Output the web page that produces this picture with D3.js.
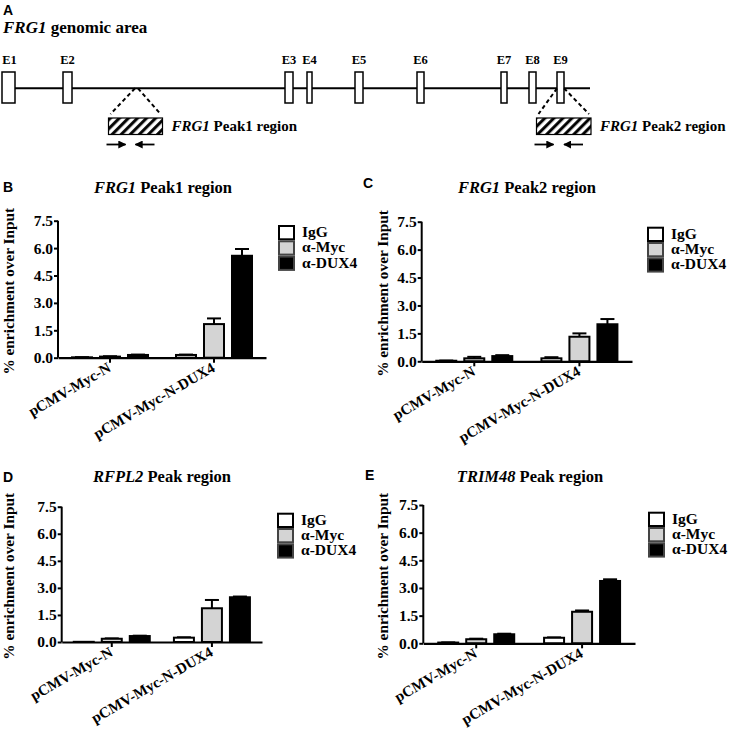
<!DOCTYPE html>
<html><head><meta charset="utf-8">
<script src="https://cdn.jsdelivr.net/npm/d3@7/dist/d3.min.js"></script>
<style>
html,body{margin:0;padding:0;background:#fff;}
svg{display:block;}
.serif{font-family:"Liberation Serif","Times New Roman",serif;font-weight:bold;}
.sans{font-family:"Liberation Sans",Arial,sans-serif;font-weight:bold;}
</style></head>
<body>
<svg id="chart" width="729" height="735"></svg>
<script>
// ---------- DATA ----------
const groups = ["pCMV-Myc-N", "pCMV-Myc-N-DUX4"];
const series = ["IgG", "α-Myc", "α-DUX4"];
const yTicks = [0, 1.5, 3.0, 4.5, 6.0, 7.5];

// values[group][series], errors[group][series]
const peak1Values = [[0.02, 0.06, 0.15], [0.15, 1.84, 5.58]];
const peak1Errors = [[0.01, 0.02, 0.02], [0.02, 0.31, 0.37]];
const peak2Values = [[0.03, 0.16, 0.28], [0.16, 1.32, 1.99]];
const peak2Errors = [[0.01, 0.08, 0.05], [0.06, 0.18, 0.28]];
const rfpl2Values = [[0.01, 0.18, 0.33], [0.24, 1.87, 2.48]];
const rfpl2Errors = [[0.00, 0.02, 0.02], [0.02, 0.46, 0.04]];
const trim48Values = [[0.04, 0.22, 0.49], [0.30, 1.71, 3.38]];
const trim48Errors = [[0.01, 0.03, 0.03], [0.02, 0.07, 0.09]];

// gene diagram (arbitrary genomic units)
const exonNames = ["E1","E2","E3","E4","E5","E6","E7","E8","E9"];
const exonStart = [2, 63, 285, 307, 355, 417, 501, 529, 557];
const exonEnd   = [15, 72, 293, 312, 363, 424, 507, 536, 564];
const geneSpan = [2, 590];
const peakNames = ["Peak1 region", "Peak2 region"];
const peakSites = [[135, 138], [557, 564]];
const peakBoxes = [[108.5, 162.5], [536.5, 591]];

// ---------- STYLE ----------
const fills = ["#ffffff", "#d4d4d4", "#000000"];
const svg = d3.select("#chart");

// ---------- PANEL A ----------
const gx = d3.scaleLinear().domain([0, 600]).range([0, 600]);
svg.append("text").attr("class","sans").attr("x",3).attr("y",15).attr("font-size",14).text("A");
const tA = svg.append("text").attr("class","serif").attr("x",3).attr("y",33).attr("font-size",17);
tA.append("tspan").attr("font-style","italic").text("FRG1");
tA.append("tspan").text(" genomic area");

const lineY = 88.3, exTop = 72, exH = 31;
svg.append("line").attr("x1",gx(geneSpan[0])).attr("x2",gx(geneSpan[1]))
  .attr("y1",lineY).attr("y2",lineY).attr("stroke","#000").attr("stroke-width",2);
svg.selectAll("rect.exon").data(exonNames).enter().append("rect").attr("class","exon")
  .attr("x",(d,i)=>gx(exonStart[i])).attr("width",(d,i)=>gx(exonEnd[i])-gx(exonStart[i]))
  .attr("y",exTop).attr("height",exH).attr("fill","#fff").attr("stroke","#000").attr("stroke-width",1.5);
svg.selectAll("text.exl").data(exonNames).enter().append("text").attr("class","serif exl")
  .attr("x",(d,i)=>(gx(exonStart[i])+gx(exonEnd[i]))/2 + (i===0?1:0)).attr("y",63.5)
  .attr("text-anchor","middle").attr("font-size",12.5).text(d=>d);

const defs = svg.append("defs");
const pat = defs.append("pattern").attr("id","hatch").attr("patternUnits","userSpaceOnUse")
  .attr("width",6.4).attr("height",6.4).attr("patternTransform","rotate(45)");
pat.append("rect").attr("width",6.4).attr("height",6.4).attr("fill","#fff");
pat.append("line").attr("x1",1.6).attr("x2",1.6).attr("y1",0).attr("y2",6.4)
  .attr("stroke","#000").attr("stroke-width",3);
const mk = defs.append("marker").attr("id","arrow").attr("viewBox","0 0 10 10").attr("refX",9).attr("refY",5)
  .attr("markerWidth",8).attr("markerHeight",8).attr("markerUnits","userSpaceOnUse").attr("orient","auto");
mk.append("path").attr("d","M0,0 L10,5 L0,10 z").attr("fill","#000");

peakNames.forEach((name,i)=>{
  const bx0 = gx(peakBoxes[i][0]), bx1 = gx(peakBoxes[i][1]);
  const boxTop = 118, boxH = 16.5;
  svg.append("line").attr("x1",gx(peakSites[i][0])).attr("y1",lineY).attr("x2",bx0+2).attr("y2",boxTop-4)
    .attr("stroke","#000").attr("stroke-width",2).attr("stroke-dasharray","4,3");
  svg.append("line").attr("x1",gx(peakSites[i][1])).attr("y1",lineY).attr("x2",bx1-2).attr("y2",boxTop-4)
    .attr("stroke","#000").attr("stroke-width",2).attr("stroke-dasharray","4,3");
  svg.append("rect").attr("x",bx0).attr("y",boxTop).attr("width",bx1-bx0).attr("height",boxH)
    .attr("fill","url(#hatch)").attr("stroke","#000").attr("stroke-width",1.2);
  const t = svg.append("text").attr("class","serif").attr("x",bx1+9).attr("y",131).attr("font-size",15);
  t.append("tspan").attr("font-style","italic").text("FRG1");
  t.append("tspan").text(" " + name);
  const ay = 144.5;
  svg.append("line").attr("x1",bx0-2).attr("x2",bx0+17).attr("y1",ay).attr("y2",ay)
    .attr("stroke","#000").attr("stroke-width",1.8).attr("marker-end","url(#arrow)");
  svg.append("line").attr("x1",bx1-8).attr("x2",bx1-27).attr("y1",ay).attr("y2",ay)
    .attr("stroke","#000").attr("stroke-width",1.8).attr("marker-end","url(#arrow)");
});

// ---------- BAR PANELS ----------
const panels = [
  {letter:"B", it:"FRG1", rest:" Peak1 region", values:peak1Values, errors:peak1Errors,
   x0:58, x1:266, yTop:220.7, yZero:357.7, ylabX:14, titleX:163, titleY:193.3, lx:3, ly:191.7, legX:278, legY:225},
  {letter:"C", it:"FRG1", rest:" Peak2 region", values:peak2Values, errors:peak2Errors,
   x0:421.7, x1:632, yTop:221.7, yZero:361.3, ylabX:388, titleX:527, titleY:193.3, lx:363, ly:188, legX:647, legY:226.7},
  {letter:"D", it:"RFPL2", rest:" Peak region", values:rfpl2Values, errors:rfpl2Errors,
   x0:61.7, x1:262, yTop:506.7, yZero:642, ylabX:14, titleX:162, titleY:481.7, lx:3, ly:481.7, legX:277, legY:512.7},
  {letter:"E", it:"TRIM48", rest:" Peak region", values:trim48Values, errors:trim48Errors,
   x0:423.3, x1:635, yTop:505, yZero:643.3, ylabX:388, titleX:530, titleY:481.7, lx:365, ly:480, legX:648, legY:511.7}
];

panels.forEach(p=>{
  const g = svg.append("g");
  const y = d3.scaleLinear().domain([0, 7.5]).range([p.yZero, p.yTop]);
  const x = d3.scaleBand().domain(groups).range([p.x0, p.x1]).padding(0);
  const xs = d3.scaleBand().domain(series).range([-38, 38]).paddingInner(0.286);

  g.append("text").attr("class","sans").attr("x",p.lx).attr("y",p.ly).attr("font-size",14).text(p.letter);
  const tt = g.append("text").attr("class","serif").attr("x",p.titleX).attr("y",p.titleY)
    .attr("text-anchor","middle").attr("font-size",16.5);
  tt.append("tspan").attr("font-style","italic").text(p.it);
  tt.append("tspan").text(p.rest);

  g.append("text").attr("class","serif").attr("font-size",15.3).attr("text-anchor","middle")
    .attr("transform",`translate(${p.ylabX},${(p.yTop+p.yZero)/2 + 2}) rotate(-90)`)
    .text("% enrichment over Input");

  // bars
  groups.forEach((grp,gi)=>{
    const cx = x(grp) + x.bandwidth()/2;
    series.forEach((s,si)=>{
      const v = p.values[gi][si], e = p.errors[gi][si];
      const bx = cx + xs(s);
      const bw = xs.bandwidth();
      if (e > 0) {
        g.append("line").attr("x1",bx+bw/2).attr("x2",bx+bw/2).attr("y1",y(v)).attr("y2",y(v+e))
          .attr("stroke","#000").attr("stroke-width",2);
        g.append("line").attr("x1",bx+bw/2-7).attr("x2",bx+bw/2+7).attr("y1",y(v+e)).attr("y2",y(v+e))
          .attr("stroke","#000").attr("stroke-width",2);
      }
      g.append("rect").attr("x",bx).attr("width",bw).attr("y",y(v)).attr("height",Math.max(0,y(0)-y(v)))
        .attr("fill",fills[si]).attr("stroke","#000").attr("stroke-width",2);
    });
  });

  // y axis
  const ya = g.append("g").attr("transform",`translate(${p.x0},0)`)
    .call(d3.axisLeft(y).tickValues(yTicks).tickFormat(d3.format(".1f")).tickSize(4).tickPadding(1));
  ya.select(".domain").attr("stroke-width",2).attr("d",`M0,${p.yZero}V${p.yTop}`);
  ya.selectAll(".tick line").attr("stroke-width",2);
  ya.selectAll(".tick text").attr("class","serif").attr("font-size",15.5).attr("fill","#000");

  // x axis
  const xa = g.append("g").attr("transform",`translate(0,${p.yZero})`)
    .call(d3.axisBottom(x).tickSize(5).tickSizeOuter(0));
  xa.select(".domain").attr("stroke-width",2.2);
  xa.selectAll(".tick line").attr("stroke-width",2);
  xa.selectAll(".tick text").attr("class","serif").attr("font-size",15).attr("fill","#000")
    .attr("text-anchor","end").attr("dy",0).attr("y",0)
    .attr("transform","translate(2,13) rotate(-30)");

  // legend
  series.forEach((s,si)=>{
    g.append("rect").attr("x",p.legX+1).attr("y",p.legY+si*15.3+1).attr("width",15).attr("height",13.3)
      .attr("fill",fills[si]).attr("stroke", si===0 ? "#000" : "#444").attr("stroke-width",2);
    g.append("text").attr("class","serif").attr("x",p.legX+24).attr("y",p.legY+12+si*15.3)
      .attr("font-size",15.5).text(s);
  });
});
</script>
</body></html>
